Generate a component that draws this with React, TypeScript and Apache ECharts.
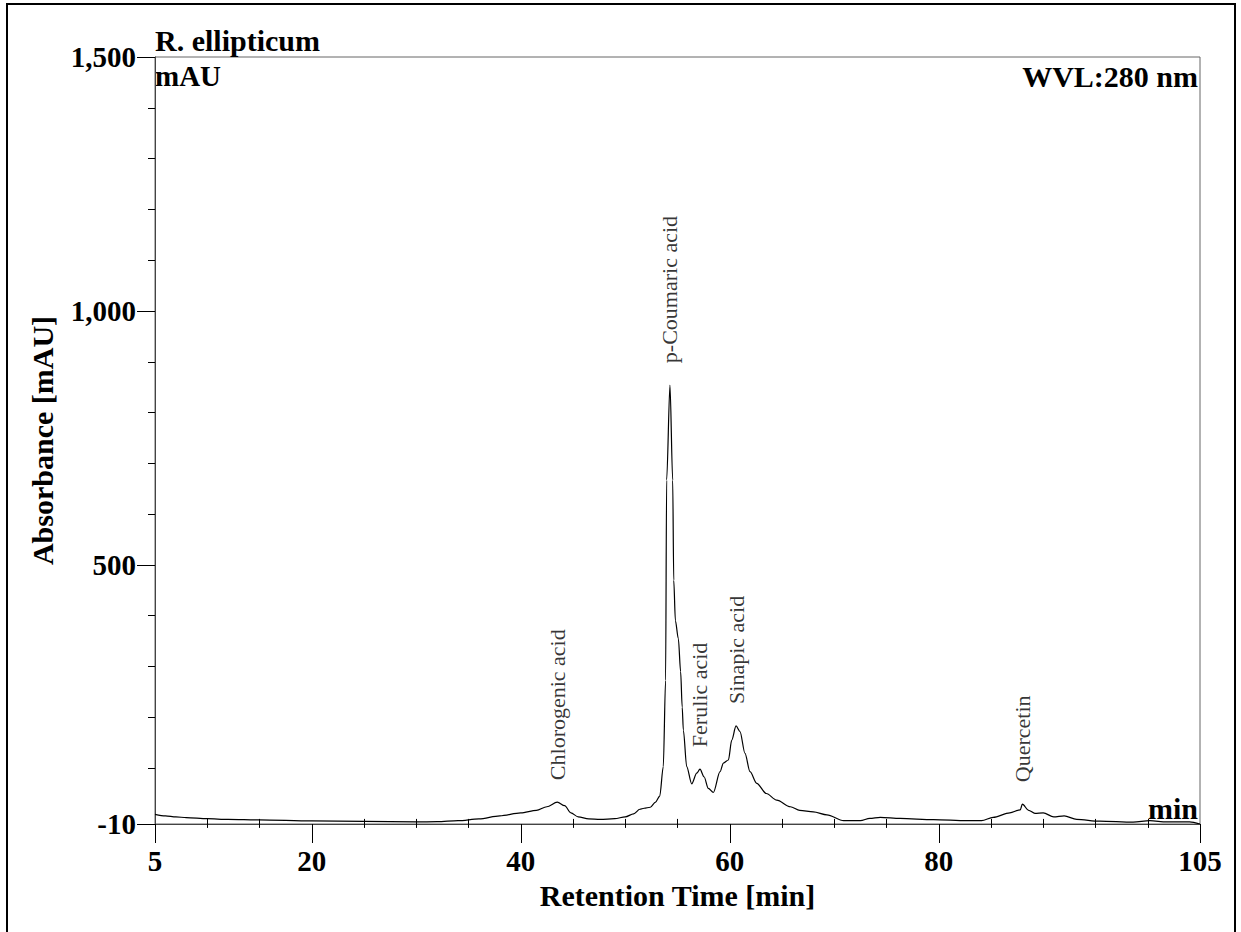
import React, { useEffect, useRef } from "react";
import * as echarts from "echarts";

// Chromatogram trace (retention time [min], absorbance [mAU])
const retentionTime = [
  5, 6, 7, 8, 10, 12, 15, 20, 25, 30, 32, 34, 36, 38, 40, 41.5, 42.5, 43.5, 44.2, 44.8,
  45.5, 46.5, 47.6, 49, 50, 50.8, 51.4, 51.8, 52.4, 52.9, 53.3, 53.64, 53.86, 53.96, 54.28,
  54.54, 54.64, 54.8, 55.08, 55.3, 55.45, 55.56, 55.88, 56.36, 56.84, 57.15, 57.54, 57.95, 58.43,
  59.07, 59.39, 59.87, 60.19, 60.6, 60.98, 61.46, 61.94, 62.58, 63.5, 64.5, 65.8, 66.7, 68,
  69.3, 70.9, 72.5, 73.4, 74.4, 76.3, 79.5, 82.7, 84.1, 85.2, 86.8, 87.8, 88.0, 88.6, 89.2,
  90, 91, 92, 93.2, 95.4, 98.6, 100.2, 101.8, 104, 105,
];
const absorbance = [
  9, 6, 4, 2.5, 0.5, -1, -2, -4, -5, -6, -5.5, -3.5, 0, 6, 12, 17, 24, 33, 26, 12,
  4, 0, -1, 0.5, 4, 10, 19, 21, 23, 33, 45, 103, 273, 667, 854,
  667, 470, 390, 355, 290, 220, 175, 103, 69, 90, 98, 83, 60, 52,
  93, 110, 116, 155, 183, 172, 129, 93, 70, 50, 37, 24, 17, 14,
  8, -3.5, -3.5, 1, 3, 1, -1.5, -3.5, -3.5, 3, 12, 18, 29, 17, 11,
  12, 4, 6, -1, -4.5, -6.5, -3.5, -6, -6, -10,
];

// Peak annotations
const peakNames = ["Chlorogenic acid", "p-Coumaric acid", "Ferulic acid", "Sinapic acid", "Quercetin"];
const peakTimes = [43.5, 54.28, 57.15, 60.6, 88.0];
const peakHeights = [33, 854, 98, 183, 29];

// Axes
const xMajorTicks = [5, 20, 40, 60, 80, 105];
const xMinorTicks = [10, 15, 25, 30, 35, 45, 50, 55, 65, 70, 75, 85, 90, 95, 100];
const yMajorTicks = [-10, 500, 1000, 1500];
const yMinorTicks = [100, 200, 300, 400, 600, 700, 800, 900, 1100, 1200, 1300, 1400];
const X_MIN = 5;
const X_MAX = 105;
const Y_MIN = -10;
const Y_MAX = 1500;

const FONT = '"Liberation Serif", "Times New Roman", Times, serif';
const AXIS_COLOR = "#444";

export default function App() {
  const ref = useRef<HTMLDivElement>(null);

  useEffect(() => {
    document.body.style.overflow = "hidden";
    if (!ref.current) return;
    const chart = echarts.init(ref.current, null, { renderer: "svg" });

    const trace = retentionTime.map((t, i) => [t, absorbance[i]]);
    const peaks = peakTimes.map((t, i) => ({ value: [t, peakHeights[i]], name: peakNames[i] }));

    const textStyle = (text: string, size: number, align: string) => ({
      text,
      font: `bold ${size}px ${FONT}`,
      fill: "#000",
      align,
      verticalAlign: "middle",
    });

    const option: any = {
      animation: false,
      backgroundColor: "#fff",
      grid: {
        left: 155,
        top: 57,
        right: 41,
        bottom: 108,
        show: true,
        borderColor: "#666",
        borderWidth: 1,
        backgroundColor: "transparent",
      },
      xAxis: [
        {
          type: "value",
          min: X_MIN,
          max: X_MAX,
          name: "Retention Time [min]",
          nameLocation: "middle",
          nameGap: 56,
          nameTextStyle: { fontFamily: FONT, fontWeight: "bold", fontSize: 30, color: "#000" },
          axisLine: { show: true, onZero: false, lineStyle: { color: AXIS_COLOR, width: 1 } },
          axisTick: { show: true, customValues: xMajorTicks, length: 19, lineStyle: { color: "#000", width: 1 } },
          axisLabel: {
            customValues: xMajorTicks,
            margin: 22,
            fontFamily: FONT,
            fontWeight: "bold",
            fontSize: 29,
            color: "#000",
          },
          splitLine: { show: false },
        },
        {
          type: "value",
          min: X_MIN,
          max: X_MAX,
          position: "bottom",
          axisLine: { show: false },
          axisTick: { show: true, customValues: xMinorTicks, length: 9, lineStyle: { color: "#000", width: 1 } },
          axisLabel: { show: false },
          splitLine: { show: false },
        },
      ],
      yAxis: [
        {
          type: "value",
          min: Y_MIN,
          max: Y_MAX,
          name: "Absorbance [mAU]",
          nameLocation: "middle",
          nameGap: 98,
          nameTextStyle: { fontFamily: FONT, fontWeight: "bold", fontSize: 30, color: "#000" },
          axisLine: { show: true, onZero: false, lineStyle: { color: AXIS_COLOR, width: 1 } },
          axisTick: { show: true, customValues: yMajorTicks, length: 18, lineStyle: { color: "#000", width: 1 } },
          axisLabel: {
            customValues: yMajorTicks,
            margin: 19,
            fontFamily: FONT,
            fontWeight: "bold",
            fontSize: 29,
            color: "#000",
            formatter: (v: number) => v.toLocaleString("en-US"),
          },
          splitLine: { show: false },
        },
        {
          type: "value",
          min: Y_MIN,
          max: Y_MAX,
          position: "left",
          axisLine: { show: false },
          axisTick: { show: true, customValues: yMinorTicks, length: 7, lineStyle: { color: "#000", width: 1 } },
          axisLabel: { show: false },
          splitLine: { show: false },
        },
      ],
      series: [
        {
          type: "line",
          data: trace,
          showSymbol: false,
          smooth: 0.3,
          smoothMonotone: "x",
          lineStyle: { color: "#000", width: 1.2 },
          silent: true,
          z: 3,
        },
        {
          type: "scatter",
          data: peaks,
          symbolSize: 0,
          silent: true,
          label: {
            show: true,
            position: "top",
            distance: 22,
            rotate: 90,
            align: "left",
            verticalAlign: "middle",
            formatter: (p: any) => p.name,
            fontFamily: FONT,
            fontSize: 22,
            color: "#000",
          },
          z: 4,
        },
      ],
      graphic: [
        {
          type: "rect",
          shape: { x: 7, y: 4, width: 1228, height: 950 },
          style: { fill: "none", stroke: "#000", lineWidth: 2 },
          silent: true,
        },
        { type: "text", x: 155, y: 40, style: textStyle("R. ellipticum", 30, "left") },
        { type: "text", x: 155, y: 76, style: textStyle("mAU", 29, "left") },
        { type: "text", x: 1198, y: 76, style: textStyle("WVL:280 nm", 30, "right") },
        { type: "text", x: 1198, y: 808, style: textStyle("min", 30, "right") },
      ],
    };

    chart.setOption(option);
    return () => chart.dispose();
  }, []);

  return (
    <div
      ref={ref}
      style={{ position: "absolute", left: 0, top: 0, width: 1241, height: 932, background: "#fff" }}
    />
  );
}
